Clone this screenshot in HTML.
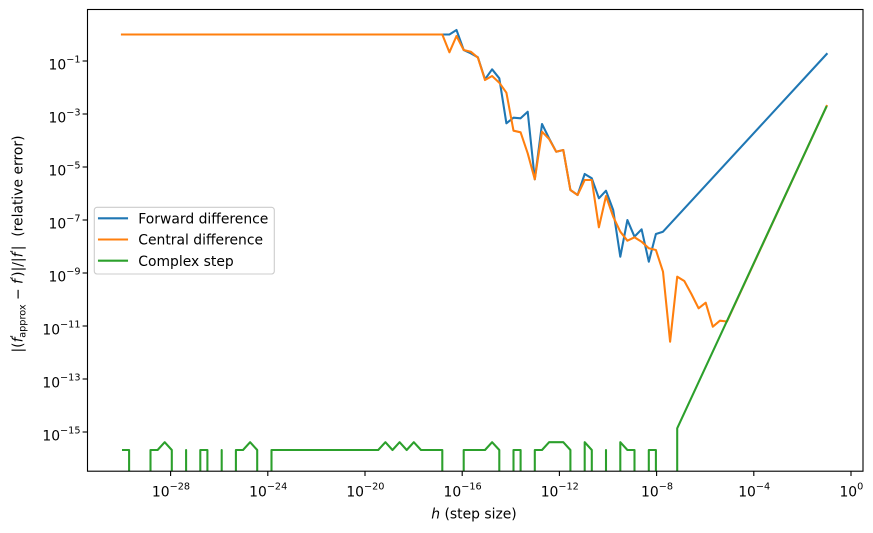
<!DOCTYPE html>
<html>
<head>
<meta charset="utf-8">
<style>
  html, body { margin: 0; padding: 0; background: #ffffff; overflow: hidden; }
  svg { display: block; }
  text { font-family: "DejaVu Sans", "Liberation Sans", sans-serif; fill: #000; }
</style>
</head>
<body>
<svg width="873" height="533" viewBox="0 0 873 533" xmlns="http://www.w3.org/2000/svg">
  <rect x="0" y="0" width="873" height="533" fill="#ffffff"/>
  <defs>
    <clipPath id="ax">
      <rect x="87.5" y="9.5" width="775.5" height="461.7"/>
    </clipPath>
  </defs>

  <g clip-path="url(#ax)" fill="none" stroke-width="2.08" stroke-linejoin="round" stroke-linecap="square">
    <!-- Forward difference -->
    <path stroke="#1f77b4" d="M122,34.5 L449.4,34.5 L456.5,30 L463.7,50 L470.8,53.3 L477.9,57.3 L485,79.3 L492.1,69.3 L499.3,78.3 L506.4,123.3 L513.5,117.7 L520.6,118.3 L527.7,111.7 L534.8,179.3 L542,124 L549.1,138.3 L556.2,151.7 L563.3,150 L570.4,190 L577.6,195 L584.7,174 L591.8,178.3 L598.9,198.3 L606,190.7 L613.2,210 L620.3,256.7 L627.4,220 L634.5,236.7 L641.6,229.3 L648.8,261.7 L655.9,234 L663,231.7 L826.7,54"/>
    <!-- Central difference -->
    <path stroke="#ff7f0e" d="M122,34.5 L442.3,34.5 L449.4,52.3 L456.5,36 L463.7,50 L470.8,51.7 L477.9,57.7 L485,80 L492.1,76 L499.3,82.7 L506.4,92.7 L513.5,130.7 L520.6,132.3 L527.7,153.3 L534.8,179.3 L542,131.7 L549.1,139 L556.2,151.7 L563.3,150 L570.4,190 L577.6,195 L584.7,180 L591.8,180 L598.9,227.3 L606,196 L613.2,216.7 L620.3,231.7 L627.4,240.7 L634.5,237.3 L641.6,241.7 L648.8,248.3 L655.9,250 L663,271.7 L670.1,341.7 L677.2,276.7 L684.3,281 L691.4,294 L698.6,308.3 L705.7,302.7 L712.8,326.7 L719.9,320.7 L727,321.5 L826.7,106"/>
    <!-- Complex step -->
    <path stroke="#2ca02c" stroke-linecap="butt" d="M122,450 L129.1,450 L129.1,480
      M150.5,480 L150.5,450 L157.6,450 L164.7,442.2 L171.8,450 L171.8,480
      M186.1,480 L186.1,450 L186.1,480
      M200.3,480 L200.3,450 L207.4,450 L207.4,480
      M221.7,480 L221.7,450 L221.7,480
      M235.9,480 L235.9,450 L243,450 L250.1,442.2 L257.2,450 L257.2,480
      M271.5,480 L271.5,450 L378.2,450 L385.4,442.2 L392.5,450 L399.6,442.2 L406.7,450 L413.8,442.2 L421,450 L442.3,450 L442.3,480
      M463.7,480 L463.7,450 L485,450 L492.1,442.2 L499.3,450 L499.3,480
      M513.5,480 L513.5,450 L520.6,450 L520.6,480
      M534.8,480 L534.8,450 L542,450 L549.1,442.2 L563.3,442.2 L570.4,450 L570.4,480
      M584.7,480 L584.7,442.2 L591.8,450 L591.8,480
      M606,480 L606,450 L606,480
      M620.3,480 L620.3,442.2 L627.4,450 L634.5,450 L634.5,480
      M648.8,480 L648.8,450 L655.9,450 L655.9,480
      M677.2,480 L677.2,428.3 L826.7,106"/>
  </g>

  <!-- Spines -->
  <rect x="87.5" y="9.5" width="775.5" height="461.7" fill="none" stroke="#000" stroke-width="1.11"/>

  <!-- Y ticks -->
  <g stroke="#000" stroke-width="1.11">
    <line x1="82.6" y1="61" x2="87.5" y2="61"/>
    <line x1="82.6" y1="114" x2="87.5" y2="114"/>
    <line x1="82.6" y1="167" x2="87.5" y2="167"/>
    <line x1="82.6" y1="220" x2="87.5" y2="220"/>
    <line x1="82.6" y1="273" x2="87.5" y2="273"/>
    <line x1="82.6" y1="326" x2="87.5" y2="326"/>
    <line x1="82.6" y1="379" x2="87.5" y2="379"/>
    <line x1="82.6" y1="432" x2="87.5" y2="432"/>
  </g>
  <g font-size="13.9" text-anchor="end">
    <text x="80.5" y="69.5">10<tspan dy="-7" font-size="9.7">−1</tspan></text>
    <text x="80.5" y="122.5">10<tspan dy="-7" font-size="9.7">−3</tspan></text>
    <text x="80.5" y="175.5">10<tspan dy="-7" font-size="9.7">−5</tspan></text>
    <text x="80.5" y="228.5">10<tspan dy="-7" font-size="9.7">−7</tspan></text>
    <text x="80.5" y="281.5">10<tspan dy="-7" font-size="9.7">−9</tspan></text>
    <text x="80.5" y="334.5">10<tspan dy="-7" font-size="9.7">−11</tspan></text>
    <text x="80.5" y="387.5">10<tspan dy="-7" font-size="9.7">−13</tspan></text>
    <text x="80.5" y="440.5">10<tspan dy="-7" font-size="9.7">−15</tspan></text>
  </g>

  <!-- X ticks -->
  <g stroke="#000" stroke-width="1.11">
    <line x1="170.6" y1="471.2" x2="170.6" y2="476"/>
    <line x1="267.8" y1="471.2" x2="267.8" y2="476"/>
    <line x1="365" y1="471.2" x2="365" y2="476"/>
    <line x1="462.2" y1="471.2" x2="462.2" y2="476"/>
    <line x1="559.4" y1="471.2" x2="559.4" y2="476"/>
    <line x1="656.6" y1="471.2" x2="656.6" y2="476"/>
    <line x1="753.8" y1="471.2" x2="753.8" y2="476"/>
    <line x1="851" y1="471.2" x2="851" y2="476"/>
  </g>
  <g font-size="13.9" text-anchor="middle">
    <text x="171" y="496.5">10<tspan dy="-7" font-size="9.7">−28</tspan></text>
    <text x="268.2" y="496.5">10<tspan dy="-7" font-size="9.7">−24</tspan></text>
    <text x="365.4" y="496.5">10<tspan dy="-7" font-size="9.7">−20</tspan></text>
    <text x="462.6" y="496.5">10<tspan dy="-7" font-size="9.7">−16</tspan></text>
    <text x="559.8" y="496.5">10<tspan dy="-7" font-size="9.7">−12</tspan></text>
    <text x="657" y="496.5">10<tspan dy="-7" font-size="9.7">−8</tspan></text>
    <text x="754.2" y="496.5">10<tspan dy="-7" font-size="9.7">−4</tspan></text>
    <text x="851.4" y="496.5">10<tspan dy="-7" font-size="9.7">0</tspan></text>
  </g>

  <!-- X label -->
  <text x="474" y="518.5" font-size="13.9" text-anchor="middle"><tspan font-style="italic">h</tspan> (step size)</text>

  <!-- Y label -->
  <text transform="translate(22.5,244) rotate(-90)" font-size="13.9" text-anchor="middle" xml:space="preserve">|(<tspan font-style="italic">f</tspan><tspan dy="-5.5" font-size="9.7">′</tspan><tspan dy="8.5" dx="-2.5" font-size="9.7">approx</tspan><tspan dy="-3"> − </tspan><tspan font-style="italic">f</tspan><tspan dy="-5.5" font-size="9.7">′</tspan><tspan dy="5.5">)|/|</tspan><tspan font-style="italic">f</tspan><tspan dy="-5.5" font-size="9.7">′</tspan><tspan dy="5.5">|  (relative error)</tspan></text>

  <!-- Legend -->
  <rect x="94.3" y="207.3" width="180" height="66.7" rx="2.8" ry="2.8" fill="#ffffff" fill-opacity="0.8" stroke="#cccccc" stroke-width="1.11"/>
  <g stroke-width="2.08" stroke-linecap="square">
    <line x1="99" y1="218.3" x2="127" y2="218.3" stroke="#1f77b4"/>
    <line x1="99" y1="239.5" x2="127" y2="239.5" stroke="#ff7f0e"/>
    <line x1="99" y1="260.7" x2="127" y2="260.7" stroke="#2ca02c"/>
  </g>
  <g font-size="13.9">
    <text x="138.3" y="223.5">Forward difference</text>
    <text x="138.3" y="244.7">Central difference</text>
    <text x="138.3" y="265.9">Complex step</text>
  </g>
</svg>
</body>
</html>
